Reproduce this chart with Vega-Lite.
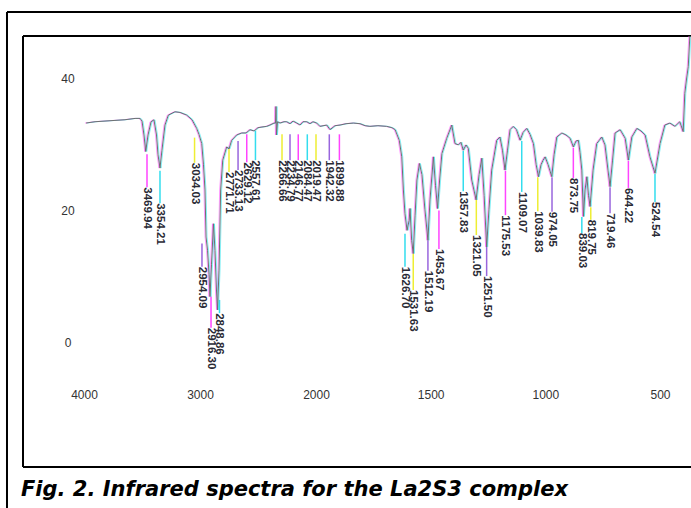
{
  "$schema": "https://vega.github.io/schema/vega-lite/v6.json",
  "autosize": {"type": "none"},
  "width": 668,
  "height": 431,
  "padding": {"left": 23, "top": 36, "right": 0, "bottom": 41},
  "background": "white",
  "config": {"view": {"stroke": null}},
  "title": {
    "text": "Fig. 2. Infrared spectra for the La2S3 complex",
    "orient": "bottom",
    "anchor": "start",
    "frame": "group",
    "offset": -30,
    "dx": -2,
    "font": "DejaVu Sans",
    "fontSize": 21,
    "fontWeight": "bold",
    "fontStyle": "italic",
    "color": "#000000"
  },
  "datasets": {
    "spectrum": [
      {"wn": 3983, "t": 33.2}, {"wn": 3905, "t": 33.4}, {"wn": 3819, "t": 33.5}, {"wn": 3733, "t": 33.6},
      {"wn": 3647, "t": 33.7}, {"wn": 3560, "t": 33.9}, {"wn": 3517, "t": 33.9}, {"wn": 3500, "t": 33.5},
      {"wn": 3483, "t": 31.4}, {"wn": 3468, "t": 28.9}, {"wn": 3448, "t": 31.4}, {"wn": 3422, "t": 33.4},
      {"wn": 3397, "t": 33.7}, {"wn": 3375, "t": 31.4}, {"wn": 3362, "t": 28.4}, {"wn": 3345, "t": 26.4},
      {"wn": 3328, "t": 29.1}, {"wn": 3302, "t": 32.9}, {"wn": 3273, "t": 34.4}, {"wn": 3216, "t": 34.9},
      {"wn": 3172, "t": 34.8}, {"wn": 3115, "t": 34.4}, {"wn": 3069, "t": 33.7}, {"wn": 3029, "t": 32.4},
      {"wn": 3009, "t": 31.5}, {"wn": 2985, "t": 30.1}, {"wn": 2970, "t": 26.9}, {"wn": 2957, "t": 23.1},
      {"wn": 2948, "t": 16.0}, {"wn": 2935, "t": 14.0}, {"wn": 2922, "t": 10.3}, {"wn": 2914, "t": 7.0},
      {"wn": 2901, "t": 11.8}, {"wn": 2884, "t": 18.0}, {"wn": 2871, "t": 14.0}, {"wn": 2858, "t": 8.0},
      {"wn": 2849, "t": 5.0}, {"wn": 2836, "t": 11.0}, {"wn": 2822, "t": 23.1}, {"wn": 2804, "t": 27.6},
      {"wn": 2770, "t": 29.6}, {"wn": 2750, "t": 29.3}, {"wn": 2727, "t": 30.6}, {"wn": 2684, "t": 31.4},
      {"wn": 2641, "t": 31.7}, {"wn": 2603, "t": 31.7}, {"wn": 2569, "t": 32.2}, {"wn": 2534, "t": 32.0},
      {"wn": 2500, "t": 32.5}, {"wn": 2466, "t": 32.6}, {"wn": 2425, "t": 32.7}, {"wn": 2397, "t": 32.9},
      {"wn": 2362, "t": 33.2}, {"wn": 2349, "t": 33.2}, {"wn": 2345, "t": 35.7}, {"wn": 2341, "t": 31.4},
      {"wn": 2332, "t": 33.4}, {"wn": 2310, "t": 33.2}, {"wn": 2276, "t": 33.4}, {"wn": 2253, "t": 33.4},
      {"wn": 2224, "t": 33.1}, {"wn": 2198, "t": 33.5}, {"wn": 2166, "t": 33.2}, {"wn": 2138, "t": 32.9},
      {"wn": 2112, "t": 33.4}, {"wn": 2080, "t": 33.4}, {"wn": 2052, "t": 33.1}, {"wn": 2026, "t": 33.4},
      {"wn": 1997, "t": 33.2}, {"wn": 1983, "t": 32.7}, {"wn": 1953, "t": 32.9}, {"wn": 1939, "t": 32.2},
      {"wn": 1917, "t": 32.8}, {"wn": 1895, "t": 32.9}, {"wn": 1869, "t": 33.1}, {"wn": 1837, "t": 33.2},
      {"wn": 1808, "t": 33.1}, {"wn": 1786, "t": 32.8}, {"wn": 1765, "t": 32.7}, {"wn": 1730, "t": 32.8},
      {"wn": 1692, "t": 32.7}, {"wn": 1669, "t": 32.5}, {"wn": 1655, "t": 32.2}, {"wn": 1637, "t": 30.6},
      {"wn": 1626, "t": 28.1}, {"wn": 1619, "t": 23.1}, {"wn": 1612, "t": 19.5}, {"wn": 1603, "t": 17.0},
      {"wn": 1594, "t": 18.5}, {"wn": 1590, "t": 20.3}, {"wn": 1583, "t": 15.5}, {"wn": 1576, "t": 13.5},
      {"wn": 1568, "t": 19.3}, {"wn": 1560, "t": 24.6}, {"wn": 1549, "t": 27.1}, {"wn": 1538, "t": 25.4},
      {"wn": 1525, "t": 20.1}, {"wn": 1512, "t": 15.5}, {"wn": 1503, "t": 21.6}, {"wn": 1488, "t": 28.1},
      {"wn": 1479, "t": 23.8}, {"wn": 1470, "t": 20.3}, {"wn": 1461, "t": 24.6}, {"wn": 1451, "t": 28.6},
      {"wn": 1430, "t": 30.9}, {"wn": 1408, "t": 32.9}, {"wn": 1394, "t": 30.1}, {"wn": 1379, "t": 29.9},
      {"wn": 1368, "t": 30.3}, {"wn": 1358, "t": 29.1}, {"wn": 1346, "t": 29.9}, {"wn": 1336, "t": 29.4},
      {"wn": 1321, "t": 24.6}, {"wn": 1302, "t": 21.6}, {"wn": 1289, "t": 25.4}, {"wn": 1277, "t": 27.9},
      {"wn": 1267, "t": 22.3}, {"wn": 1256, "t": 14.5}, {"wn": 1246, "t": 20.1}, {"wn": 1234, "t": 26.1},
      {"wn": 1212, "t": 30.6}, {"wn": 1198, "t": 31.1}, {"wn": 1187, "t": 29.1}, {"wn": 1176, "t": 26.1},
      {"wn": 1165, "t": 29.1}, {"wn": 1154, "t": 32.2}, {"wn": 1140, "t": 32.7}, {"wn": 1126, "t": 32.2},
      {"wn": 1110, "t": 30.6}, {"wn": 1097, "t": 31.8}, {"wn": 1081, "t": 32.4}, {"wn": 1067, "t": 31.5},
      {"wn": 1052, "t": 30.1}, {"wn": 1040, "t": 26.9}, {"wn": 1030, "t": 25.1}, {"wn": 1019, "t": 26.9},
      {"wn": 1010, "t": 27.6}, {"wn": 1001, "t": 28.1}, {"wn": 988, "t": 26.9}, {"wn": 972, "t": 25.1},
      {"wn": 962, "t": 28.4}, {"wn": 950, "t": 31.1}, {"wn": 928, "t": 31.7}, {"wn": 910, "t": 31.4},
      {"wn": 892, "t": 30.9}, {"wn": 878, "t": 29.6}, {"wn": 866, "t": 30.5}, {"wn": 856, "t": 30.6},
      {"wn": 849, "t": 28.8}, {"wn": 841, "t": 26.1}, {"wn": 834, "t": 19.1}, {"wn": 827, "t": 23.1},
      {"wn": 819, "t": 25.1}, {"wn": 812, "t": 22.3}, {"wn": 805, "t": 20.6}, {"wn": 792, "t": 26.1},
      {"wn": 776, "t": 30.1}, {"wn": 754, "t": 31.1}, {"wn": 740, "t": 29.9}, {"wn": 727, "t": 26.1},
      {"wn": 718, "t": 23.6}, {"wn": 707, "t": 27.6}, {"wn": 696, "t": 31.7}, {"wn": 674, "t": 32.2},
      {"wn": 652, "t": 30.9}, {"wn": 638, "t": 27.6}, {"wn": 623, "t": 31.1}, {"wn": 601, "t": 32.4},
      {"wn": 583, "t": 32.0}, {"wn": 565, "t": 31.4}, {"wn": 544, "t": 28.1}, {"wn": 522, "t": 25.6},
      {"wn": 500, "t": 30.1}, {"wn": 479, "t": 32.9}, {"wn": 457, "t": 33.2}, {"wn": 435, "t": 32.7},
      {"wn": 414, "t": 33.4}, {"wn": 399, "t": 31.9}, {"wn": 392, "t": 37.7}, {"wn": 385, "t": 39.7},
      {"wn": 377, "t": 41.7}, {"wn": 370, "t": 46.3}, {"wn": 365, "t": 50.0}
    ],
    "peaks": [
      {"label": "3469.94", "at": 3457, "top": 28.5, "textT": 23.5},
      {"label": "3354.21", "at": 3345, "top": 26.0, "textT": 21.1},
      {"label": "3034.03", "at": 3047, "top": 31.0, "textT": 27.2},
      {"label": "2954.09", "at": 2983, "top": 15.0, "textT": 11.5},
      {"label": "2916.30", "at": 2905, "top": 7.0, "textT": 2.3},
      {"label": "2848.86", "at": 2832, "top": 6.5, "textT": 4.5},
      {"label": "2771.71", "at": 2750, "top": 29.5, "textT": 25.8},
      {"label": "2733.13", "at": 2672, "top": 30.5, "textT": 26.1},
      {"label": "2629.12", "at": 2597, "top": 31.5, "textT": 27.3},
      {"label": "2557.61", "at": 2522, "top": 32.0, "textT": 27.6},
      {"label": "2266.66", "at": 2293, "top": 31.5, "textT": 27.6},
      {"label": "2234.79", "at": 2224, "top": 31.5, "textT": 27.6},
      {"label": "2146.77", "at": 2153, "top": 31.5, "textT": 27.6},
      {"label": "2084.47", "at": 2075, "top": 31.5, "textT": 27.6},
      {"label": "2019.47", "at": 2000, "top": 31.5, "textT": 27.6},
      {"label": "1942.32", "at": 1942, "top": 31.5, "textT": 27.6},
      {"label": "1899.88", "at": 1898, "top": 31.5, "textT": 27.6},
      {"label": "1626.70", "at": 1612, "top": 16.5, "textT": 11.5},
      {"label": "1531.63", "at": 1576, "top": 13.5, "textT": 8.0},
      {"label": "1512.19", "at": 1512, "top": 15.5, "textT": 10.9},
      {"label": "1453.67", "at": 1464, "top": 20.0, "textT": 14.2},
      {"label": "1357.83", "at": 1358, "top": 29.0, "textT": 22.9},
      {"label": "1321.05", "at": 1301, "top": 21.6, "textT": 16.3},
      {"label": "1251.50", "at": 1256, "top": 14.5, "textT": 10.1},
      {"label": "1175.53", "at": 1174, "top": 26.0, "textT": 19.3},
      {"label": "1109.07", "at": 1103, "top": 30.5, "textT": 22.8},
      {"label": "1039.83", "at": 1033, "top": 25.0, "textT": 19.9},
      {"label": "974.05", "at": 971, "top": 25.0, "textT": 19.8},
      {"label": "873.75", "at": 878, "top": 29.5, "textT": 24.9},
      {"label": "839.03", "at": 841, "top": 19.0, "textT": 16.6},
      {"label": "819.75", "at": 802, "top": 20.5, "textT": 18.6},
      {"label": "719.46", "at": 718, "top": 23.5, "textT": 19.6},
      {"label": "644.22", "at": 638, "top": 27.5, "textT": 23.4},
      {"label": "524.54", "at": 522, "top": 25.5, "textT": 21.3}
    ],
    "frameV": [{"xv": 4526, "y1": 46.34, "y2": -18.72}, {"xv": 4664, "y1": 49.96, "y2": -24.9}],
    "frameH": [{"yv": 46.34, "x1": 4526, "x2": 365}, {"yv": -18.72, "x1": 4526, "x2": 365}, {"yv": 49.96, "x1": 4664, "x2": 365}]
  },
  "layer": [
    {
      "data": {"name": "frameV"},
      "mark": {"type": "rule", "stroke": "#000000", "strokeWidth": 2, "clip": false},
      "encoding": {
        "x": {"field": "xv", "type": "quantitative", "scale": {"domain": [4526, 2000, 365], "range": [0, 293, 668], "nice": false, "zero": false},
          "axis": {"values": [4000, 3000, 2000, 1500, 1000, 500], "format": "d", "title": null, "grid": false, "domain": false, "ticks": false, "tickSize": 0, "labelPadding": 0, "offset": -78, "labelFont": "Liberation Sans", "labelFontSize": 12, "labelColor": "#333333"}},
        "y": {"field": "y1", "type": "quantitative", "scale": {"domain": [-18.72, 46.34], "nice": false, "zero": false},
          "axis": {"values": [0, 20, 40], "title": null, "grid": false, "domain": false, "ticks": false, "tickSize": 0, "labelPadding": 0, "offset": -44.5, "labelAlign": "center", "labelFont": "Liberation Sans", "labelFontSize": 12, "labelColor": "#333333"}},
        "y2": {"field": "y2"}
      }
    },
    {
      "data": {"name": "frameH"},
      "mark": {"type": "rule", "stroke": "#000000", "strokeWidth": 2, "clip": false},
      "encoding": {
        "x": {"field": "x1", "type": "quantitative"},
        "x2": {"field": "x2"},
        "y": {"field": "yv", "type": "quantitative"}
      }
    },
    {
      "data": {"name": "peaks"},
      "mark": {"type": "rule", "strokeWidth": 1.5},
      "encoding": {
        "x": {"field": "at", "type": "quantitative"},
        "y": {"field": "top", "type": "quantitative"},
        "y2": {"field": "textT"},
        "color": {"field": "label", "type": "nominal", "legend": null, "sort": null,
          "scale": {"range": ["#ff44ff", "#33ddee", "#eeee33", "#9966dd"]}}
      }
    },
    {
      "data": {"name": "spectrum"},
      "mark": {"type": "line", "stroke": "#ff55ff", "strokeWidth": 1, "xOffset": -1, "opacity": 0.6, "clip": true},
      "encoding": {"x": {"field": "wn", "type": "quantitative"}, "y": {"field": "t", "type": "quantitative"}}
    },
    {
      "data": {"name": "spectrum"},
      "mark": {"type": "line", "stroke": "#33e6f0", "strokeWidth": 1, "xOffset": 1, "opacity": 0.6, "clip": true},
      "encoding": {"x": {"field": "wn", "type": "quantitative"}, "y": {"field": "t", "type": "quantitative"}}
    },
    {
      "data": {"name": "spectrum"},
      "mark": {"type": "line", "stroke": "#707070", "strokeWidth": 1, "clip": true},
      "encoding": {"x": {"field": "wn", "type": "quantitative"}, "y": {"field": "t", "type": "quantitative"}}
    },
    {
      "data": {"name": "peaks"},
      "mark": {"type": "text", "angle": 90, "align": "left", "baseline": "middle", "font": "Liberation Sans", "fontSize": 11.5, "fontWeight": "bold", "fill": "#2a2a35"},
      "encoding": {
        "x": {"field": "at", "type": "quantitative"},
        "y": {"field": "textT", "type": "quantitative"},
        "text": {"field": "label"}
      }
    }
  ]
}
